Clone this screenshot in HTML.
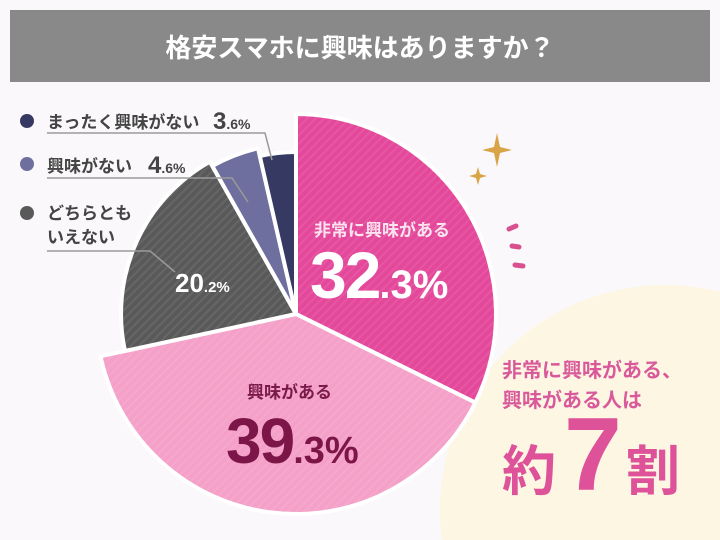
<!DOCTYPE html><html><head><meta charset="utf-8"><style>
html,body{margin:0;width:720px;height:540px;overflow:hidden;background:#faf8fa;font-family:"Liberation Sans","Noto Sans CJK JP",sans-serif}
svg{display:block}
</style></head><body>
<svg width="720" height="540" viewBox="0 0 720 540" xmlns="http://www.w3.org/2000/svg">
<defs>
<pattern id="st" width="6" height="6" patternUnits="userSpaceOnUse" patternTransform="rotate(45)"><rect width="6" height="6" fill="rgba(255,255,255,0)"/><rect width="2" height="6" fill="rgba(255,255,255,0.08)"/></pattern>
</defs>
<rect x="0" y="0" width="720" height="540" fill="#faf8fa"/>
<circle cx="665" cy="510" r="225" fill="#fdf6e3"/>
<rect x="10" y="10" width="700" height="72" fill="#898989"/>
<text x="360" y="57" font-size="26" font-weight="bold" fill="#fff" text-anchor="middle" font-family="Liberation Sans,Noto Sans CJK JP,sans-serif">格安スマホに興味はありますか？</text>
<g stroke="#fff" stroke-width="4" stroke-linejoin="round">
<path d="M296,314 L296,114 A200,200 0 0 1 475.3,402.6 Z" fill="#e4489a"/>
<path d="M296,314 L475.3,402.6 A200,200 0 0 1 100.5,356.3 Z" fill="#f4a0c8"/>
<path d="M296,314 L125,351 A175,175 0 0 1 209.8,161.7 Z" fill="#595959"/>
<path d="M296,314 L212.3,166 A170,170 0 0 1 258,148.3 Z" fill="#6e6f9f"/>
<path d="M296,314 L259.8,156.1 A162,162 0 0 1 296,152 Z" fill="#363a63"/>
</g>
<g>
<path d="M296,314 L296,114 A200,200 0 0 1 475.3,402.6 Z" fill="url(#st)"/>
<path d="M296,314 L475.3,402.6 A200,200 0 0 1 100.5,356.3 Z" fill="url(#st)"/>
<path d="M296,314 L125,351 A175,175 0 0 1 209.8,161.7 Z" fill="url(#st)"/>
</g>
<g fill="none" stroke="#9a9a9a" stroke-width="1.5">
<polyline points="47,133 265,133 272,160"/>
<polyline points="47,178 232,178 248,202"/>
<polyline points="47,251 150,251 175,272"/>
</g>
<circle cx="27" cy="121" r="7" fill="#363a63"/>
<circle cx="27" cy="164" r="7" fill="#6e6f9f"/>
<circle cx="27" cy="213" r="7" fill="#595959"/>
<g font-family="Liberation Sans,Noto Sans CJK JP,sans-serif" fill="#444" font-weight="bold">
<text x="47" y="128" font-size="17">まったく興味がない</text>
<text x="213" y="129" font-size="24">3<tspan font-size="14">.6%</tspan></text>
<text x="47" y="172" font-size="17">興味がない</text>
<text x="148" y="173" font-size="24">4<tspan font-size="14">.6%</tspan></text>
<text x="47" y="219" font-size="17">どちらとも</text>
<text x="47" y="243" font-size="17">いえない</text>
</g>
<g font-family="Liberation Sans,Noto Sans CJK JP,sans-serif" font-weight="bold">
<text x="175" y="292" font-size="26" fill="#fff">20<tspan font-size="15">.2%</tspan></text>
<text x="314" y="236" font-size="17" fill="#fbe3ef">非常に興味がある</text>
<text x="310" y="298" font-size="66" fill="#fff" letter-spacing="-2">32<tspan font-size="40" letter-spacing="0">.3%</tspan></text>
<text x="247" y="398" font-size="17" fill="#7a1a4a">興味がある</text>
<text x="226" y="463" font-size="64" fill="#7d1648" letter-spacing="-2">39<tspan font-size="38" letter-spacing="0">.3%</tspan></text>
<text x="502" y="377" font-size="20" fill="#d9599b">非常に興味がある、</text>
<text x="502" y="407" font-size="20" fill="#d9599b">興味がある人は</text>
<text x="502" y="490" font-size="54" fill="#de5299">約</text>
<text x="564" y="490" font-size="104" fill="#de5299">7</text>
<text x="626" y="490" font-size="54" fill="#de5299">割</text>
</g>
<path d="M497,133 L500,147 L512,150 L500,153 L497,167 L494,153 L482,150 L494,147 Z" fill="#d8a446"/>
<path d="M478,167 L480,174 L487,176 L480,178 L478,185 L476,178 L469,176 L476,174 Z" fill="#d8a446"/>
<g stroke="#d9508e" stroke-width="5" stroke-linecap="round">
<line x1="509" y1="229" x2="516" y2="226"/>
<line x1="512" y1="246" x2="519" y2="247"/>
<line x1="515" y1="265" x2="523" y2="266"/>
</g>
</svg>
</body></html>
